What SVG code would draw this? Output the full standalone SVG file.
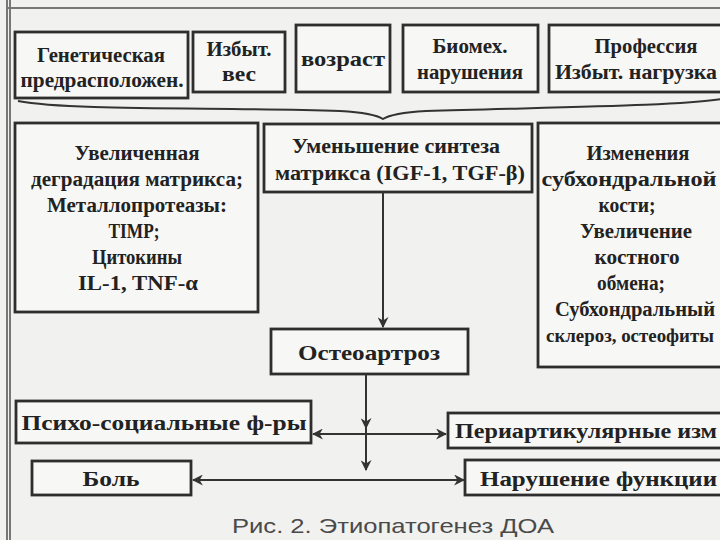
<svg xmlns="http://www.w3.org/2000/svg" width="720" height="540" viewBox="0 0 720 540">
<defs>
<style>
.bg{fill:#f1f1ef}
.box{fill:#f7f7f5;stroke:#2e2e2e;stroke-width:2.8}
.t{font-family:"Liberation Serif","Times New Roman",serif;font-weight:bold;font-size:20.5px;fill:#222;text-anchor:middle}
.ts{font-family:"Liberation Serif","Times New Roman",serif;font-weight:bold;font-size:20.5px;fill:#222}
.ln{stroke:#333;stroke-width:2;fill:none}
.frame{stroke:#777;stroke-width:2;fill:none}
.cap{font-family:"Liberation Sans",Arial,sans-serif;font-size:21px;fill:#4a4a4a;text-anchor:middle}
</style>
<marker id="am" viewBox="0 0 10 10" refX="9" refY="5" markerWidth="11" markerHeight="11" orient="auto-start-reverse" markerUnits="userSpaceOnUse">
<path d="M0,0 L10,5 L0,10 L3,5 Z" fill="#333"/>
</marker>
</defs>
<rect class="bg" x="0" y="0" width="720" height="540"/>
<g id="frame">
<path class="frame" d="M7,0 V540"/>
<path class="frame" d="M10,0 V540" stroke-width="1"/>
<path class="frame" d="M7,8 H720"/>
</g>

<g id="n1"><rect class="box" x="15" y="32" width="173" height="66"/>
<text class="t" x="101" y="62" textLength="128" lengthAdjust="spacingAndGlyphs">Генетическая</text>
<text class="t" x="102" y="87" textLength="163" lengthAdjust="spacingAndGlyphs">предрасположен.</text></g>
<g id="n2"><rect class="box" x="193" y="32" width="92" height="60"/>
<text class="t" x="239" y="56" textLength="65" lengthAdjust="spacingAndGlyphs">Избыт.</text>
<text class="t" x="239" y="81" textLength="34" lengthAdjust="spacingAndGlyphs">вес</text></g>
<g id="n3"><rect class="box" x="296" y="25" width="94" height="67"/>
<text class="t" x="343" y="66" style="font-size:22px" textLength="84" lengthAdjust="spacingAndGlyphs">возраст</text></g>
<g id="n4"><rect class="box" x="403" y="25" width="135" height="67"/>
<text class="t" x="470" y="53" textLength="75" lengthAdjust="spacingAndGlyphs">Биомех.</text>
<text class="t" x="470" y="79" textLength="106" lengthAdjust="spacingAndGlyphs">нарушения</text></g>
<g id="n5"><rect class="box" x="549" y="25" width="180" height="67"/>
<text class="t" x="646" y="53" textLength="103" lengthAdjust="spacingAndGlyphs">Профессия</text>
<text class="ts" x="555" y="79" textLength="162" lengthAdjust="spacingAndGlyphs">Избыт. нагрузка</text></g>

<g id="n6"><rect class="box" x="15" y="123" width="243" height="189"/>
<text class="t" x="137" y="160" textLength="125" lengthAdjust="spacingAndGlyphs">Увеличенная</text>
<text class="t" x="137" y="186" textLength="212" lengthAdjust="spacingAndGlyphs">деградация матрикса;</text>
<text class="t" x="137" y="212" textLength="180" lengthAdjust="spacingAndGlyphs">Металлопротеазы:</text>
<text class="t" x="134" y="238" textLength="51" lengthAdjust="spacingAndGlyphs">TIMP;</text>
<text class="t" x="137" y="264" textLength="90" lengthAdjust="spacingAndGlyphs">Цитокины</text>
<text class="t" x="138" y="290" textLength="120" lengthAdjust="spacingAndGlyphs">IL-1, TNF-α</text></g>
<g id="n7"><rect class="box" x="264" y="124" width="268" height="68"/>
<text class="t" x="396" y="153" textLength="208" lengthAdjust="spacingAndGlyphs">Уменьшение синтеза</text>
<text class="t" x="400" y="180" textLength="250" lengthAdjust="spacingAndGlyphs">матрикса (IGF-1, TGF-β)</text></g>
<g id="n8"><rect class="box" x="538" y="123" width="190" height="244"/>
<text class="t" x="638" y="160" textLength="103" lengthAdjust="spacingAndGlyphs">Изменения</text>
<text class="t" x="629" y="186" textLength="175" lengthAdjust="spacingAndGlyphs">субхондральной</text>
<text class="t" x="627" y="212" textLength="57" lengthAdjust="spacingAndGlyphs">кости;</text>
<text class="t" x="636" y="238" textLength="112" lengthAdjust="spacingAndGlyphs">Увеличение</text>
<text class="t" x="637" y="264" textLength="85" lengthAdjust="spacingAndGlyphs">костного</text>
<text class="t" x="631" y="290" textLength="68" lengthAdjust="spacingAndGlyphs">обмена;</text>
<text class="ts" x="555" y="316" textLength="160" lengthAdjust="spacingAndGlyphs">Субхондральный</text>
<text class="ts" x="546" y="342" style="font-size:18px" textLength="168" lengthAdjust="spacingAndGlyphs">склероз, остеофиты</text></g>

<g id="n9"><rect class="box" x="271" y="329" width="197" height="45"/>
<text class="t" x="369" y="360" style="font-size:21.5px" textLength="142" lengthAdjust="spacingAndGlyphs">Остеоартроз</text></g>
<g id="n10"><rect class="box" x="16" y="401" width="295" height="42"/>
<text class="t" x="164" y="430" textLength="285" lengthAdjust="spacingAndGlyphs">Психо-социальные ф-ры</text></g>
<g id="n11"><rect class="box" x="448" y="413" width="280" height="35"/>
<text class="ts" x="455" y="438" textLength="262" lengthAdjust="spacingAndGlyphs">Периартикулярные изм</text></g>
<g id="n12"><rect class="box" x="32" y="461" width="159" height="34"/>
<text class="t" x="111" y="486" textLength="57" lengthAdjust="spacingAndGlyphs">Боль</text></g>
<g id="n13"><rect class="box" x="465" y="460" width="263" height="35"/>
<text class="ts" x="480" y="486" textLength="237" lengthAdjust="spacingAndGlyphs">Нарушение функции</text></g>

<g id="connectors">
<path class="ln" stroke-width="1.6" d="M18,101 C70,111 220,107 340,111 Q374,113 383,119 Q392,113 426,111 C560,107 680,106 722,99"/>
<path class="ln" d="M383,192 V327" marker-end="url(#am)"/>
<path class="ln" d="M366,374 V428" marker-end="url(#am)"/>
<path class="ln" d="M366,428 V470" marker-end="url(#am)"/>
<path class="ln" d="M313,434 H446" marker-start="url(#am)" marker-end="url(#am)"/>
<path class="ln" d="M193,480 H464" marker-start="url(#am)" marker-end="url(#am)"/>
</g>
<text class="cap" x="393" y="533" textLength="322" lengthAdjust="spacingAndGlyphs">Рис. 2. Этиопатогенез ДОА</text>
</svg>
